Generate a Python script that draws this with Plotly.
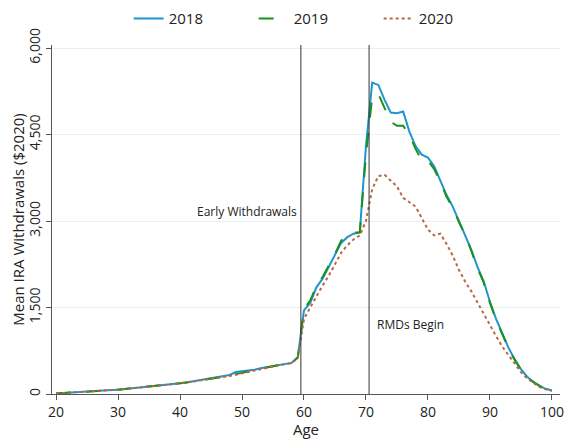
import plotly.graph_objects as go

ages = list(range(20, 101))

# mean IRA withdrawals by age ($2020)
w2018 = [10, 15, 20, 25, 30, 38, 45, 52, 60, 68,
         75, 85, 95, 105, 115, 125, 135, 148, 160, 172,
         185, 200, 218, 235, 255, 272, 290, 305, 330, 380,
         390, 400, 420, 445, 465, 485, 505, 525, 540, 640,
         1450, 1580, 1850, 2000, 2200, 2400, 2620, 2720, 2780, 2800,
         4300, 5400, 5360, 5100, 4880, 4870, 4900, 4550, 4300, 4150,
         4100, 3950, 3700, 3450, 3250, 3000, 2780, 2500, 2200, 1950,
         1600, 1300, 1050, 800, 600, 430, 300, 210, 140, 90,
         60]
w2019 = [10, 15, 20, 25, 30, 38, 45, 52, 60, 68,
         75, 85, 95, 105, 115, 125, 135, 148, 160, 172,
         185, 200, 215, 230, 248, 265, 282, 298, 318, 345,
         370, 392, 415, 440, 462, 482, 502, 522, 538, 630,
         1480, 1620, 1870, 2030, 2230, 2430, 2660, 2760, 2800, 2800,
         4150, 5150, 5200, 4950, 4720, 4650, 4650, 4500, 4250, 4050,
         4050, 3900, 3680, 3420, 3230, 2980, 2760, 2480, 2180, 1930,
         1580, 1280, 1040, 790, 590, 420, 295, 205, 140, 90,
         60]
w2020 = [10, 15, 20, 25, 30, 38, 45, 52, 60, 68,
         75, 85, 95, 105, 115, 125, 135, 148, 160, 172,
         185, 200, 215, 230, 248, 265, 280, 295, 312, 335,
         360, 385, 410, 435, 458, 480, 500, 520, 535, 620,
         1300, 1500, 1700, 1880, 2050, 2250, 2450, 2580, 2680, 2750,
         3000, 3550, 3780, 3800, 3700, 3600, 3400, 3330, 3250, 3050,
         2850, 2750, 2780, 2600, 2400, 2150, 1950, 1780, 1580, 1400,
         1200, 1000, 820, 680, 530, 380, 270, 190, 120, 80,
         55]

series = [("2018", w2018, "#1f95d0", "solid"),
          ("2019", w2019, "#1a9118", "longdash"),
          ("2020", w2020, "#b8673f", "dot")]

fnt = "Open Sans"
fig = go.Figure()
for name, vals, col, dash in series:
    fig.add_trace(go.Scatter(x=ages, y=vals, mode="lines", name=name,
                             line=dict(color=col, width=2, dash=dash)))

# policy age markers
fig.add_vline(x=59.5, line=dict(color="#333333", width=1))
fig.add_vline(x=70.5, line=dict(color="#333333", width=1))
fig.add_annotation(x=59.2, y=3170, text="Early Withdrawals", showarrow=False,
                   xanchor="right", font=dict(family=fnt, size=12, color="#222222"))
fig.add_annotation(x=71.5, y=1200, text="RMDs Begin", showarrow=False,
                   xanchor="left", font=dict(family=fnt, size=12, color="#222222"))

# page body has an 8px margin, so the figure is sized to fit the window
fig.update_layout(
    width=566, height=431,
    margin=dict(l=44, r=14, t=37, b=45, autoexpand=False),
    plot_bgcolor="white", paper_bgcolor="white",
    font=dict(family=fnt, size=14, color="#222222"),
    showlegend=True,
    legend=dict(orientation="h", x=0.52, xanchor="center", y=1.075, yanchor="middle",
                font=dict(size=15), entrywidth=80, entrywidthmode="pixels"),
    xaxis=dict(range=[19.35, 101.3], tickvals=list(range(20, 101, 10)),
               showgrid=False, zeroline=False, showline=True, linecolor="#555555",
               ticks="outside", ticklen=5, tickcolor="#555555", automargin=False,
               title=dict(text="Age", font=dict(size=15), standoff=3)),
    yaxis=dict(range=[0, 6052], tickvals=[0, 1500, 3000, 4500, 6000],
               ticktext=["0", "1,500", "3,000", "4,500", "6,000"], tickangle=-90,
               showgrid=True, gridcolor="#eaf0f0", zeroline=False,
               showline=True, linecolor="#555555", automargin=False,
               ticks="outside", ticklen=5, tickcolor="#555555",
               title=dict(text="Mean IRA Withdrawals ($2020)", font=dict(size=15), standoff=2)),
)

fig.write_html("out.html")
